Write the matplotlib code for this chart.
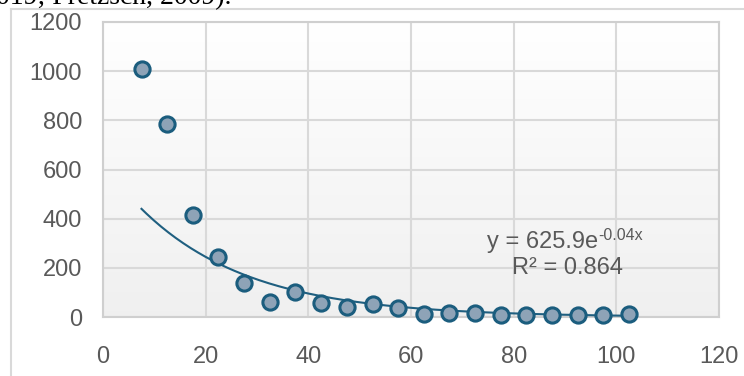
import numpy as np
import matplotlib
matplotlib.use("Agg")
import matplotlib.pyplot as plt
from matplotlib.lines import Line2D

# Data
x_vals = [7.5, 12.5, 17.5, 22.5, 27.5, 32.5, 37.5, 42.5, 47.5, 52.5,
          57.5, 62.5, 67.5, 72.5, 77.5, 82.5, 87.5, 92.5, 97.5, 102.5]
y_vals = [1010, 785, 415, 245, 140, 60, 100, 55, 42, 52,
          38, 12, 18, 15, 10, 10, 10, 10, 8, 12]
x_ticks = [0, 20, 40, 60, 80, 100, 120]
y_ticks = [0, 200, 400, 600, 800, 1000, 1200]
trend_a = 625.9
trend_b = -0.047
eq_main = "y = 625.9e"
eq_exp = "-0.04x"
r2_text = "R² = 0.864"
caption = "019; Pretzsch, 2009)."

x = np.array(x_vals)
y = np.array(y_vals)

plt.rcParams['font.family'] = ['Liberation Sans', 'DejaVu Sans']

fig = plt.figure(figsize=(7.44, 3.76), dpi=100)
W, H = 744, 376
ax = fig.add_axes([103 / W, 59 / H, 616 / W, 295 / H])

# gradient background
grad = np.linspace(1.0, 0.94, 256).reshape(-1, 1)
ax.imshow(np.dstack([grad, grad, grad]), extent=[0, 120, 0, 1200],
          aspect='auto', zorder=0, origin='upper')

ax.set_xlim(0, 120)
ax.set_ylim(0, 1200)
ax.set_xticks(x_ticks)
ax.set_yticks(y_ticks)
ax.grid(True, color='#d9d9d9', linewidth=1.5, zorder=1)
for s in ax.spines.values():
    s.set_color('#cfcfcf')
    s.set_linewidth(1.5)
ax.tick_params(length=0, labelsize=17, labelcolor='#595959')
ax.tick_params(axis='y', pad=15)
ax.tick_params(axis='x', pad=21)

xf = np.linspace(x.min(), x.max(), 200)
ax.plot(xf, trend_a * np.exp(trend_b * xf), color='#1f5f80', linewidth=1.5, zorder=3)
ax.scatter(x, y, s=120, facecolor='#8ea3b7', edgecolor='#1b5d7e',
           linewidth=2.2, zorder=4, clip_on=False)

t_main = ax.text(96.4, 305, eq_main, ha='right', va='center', fontsize=17,
                 color='#595959')
ax.annotate(eq_exp, xy=(1.0, 1.0), xycoords=t_main, xytext=(0.5, 2.5),
            textcoords='offset points', ha='left', va='top', fontsize=11.5,
            color='#595959')
ax.text(90.4, 200, r2_text, ha='center', va='center', fontsize=17,
        color='#595959')

# outer chart frame
fig.add_artist(Line2D([11 / W, 11 / W], [0, 1 - 9 / H], transform=fig.transFigure,
                      color='#d9d9d9', linewidth=1.5))
fig.add_artist(Line2D([11 / W, 1], [1 - 9 / H, 1 - 9 / H], transform=fig.transFigure,
                      color='#d9d9d9', linewidth=1.5))

fig.text(-4 / W, 1 - 4 / H, caption, ha='left', va='baseline', fontsize=20,
         family=['Liberation Serif', 'DejaVu Serif'], color='black')

fig.savefig('out.png', dpi=100)
